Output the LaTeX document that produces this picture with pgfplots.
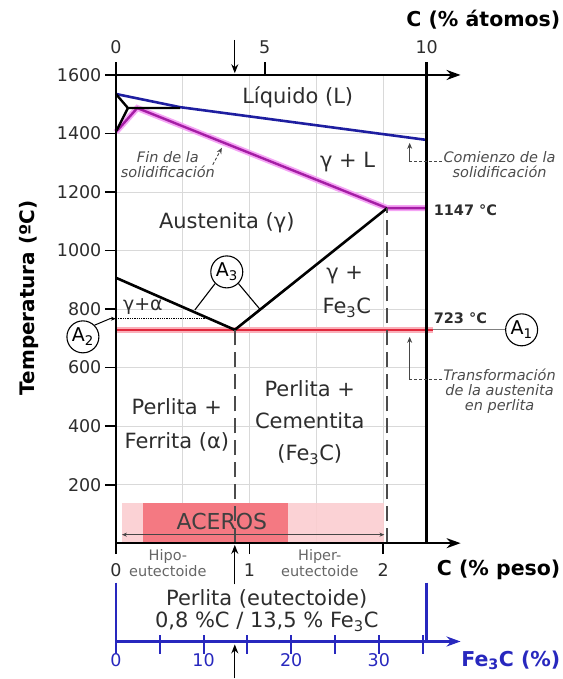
\documentclass[border=0pt]{standalone}
\usepackage{fontspec}
\setmainfont{DejaVu Sans}
\usepackage{pgfplots}
\pgfplotsset{compat=1.18}
\usetikzlibrary{arrows.meta}
\definecolor{liq}{RGB}{30,30,160}
\definecolor{sol}{RGB}{165,30,165}
\definecolor{solhalo}{RGB}{245,165,245}
\definecolor{eut}{RGB}{225,40,60}
\definecolor{euthalo}{RGB}{250,175,185}
\definecolor{acl}{RGB}{251,205,208}
\definecolor{acd}{RGB}{244,112,122}
\definecolor{fe3c}{RGB}{40,40,190}
\definecolor{txt}{RGB}{45,45,45}
\definecolor{lead}{RGB}{70,70,70}
\begin{document}
\begin{tikzpicture}
\begin{axis}[
 scale only axis, width=311pt, height=468.6pt,
 xmin=0, xmax=2.326, ymin=0, ymax=1600,
 clip=false,
 axis lines=left, axis line style={draw=none},
 tick align=outside, major tick length=11pt, minor tick length=0pt,
 xtick={0,1,2}, minor xtick={0.5,1.5}, ytick={200,400,...,1600},
 grid=both,
 major grid style={gray!30, line width=0.9pt},
 minor grid style={gray!30, line width=0.9pt},
 tick style={black, line width=1.8pt},
 ticklabel style={font=\fontsize{17.5}{17.5}\selectfont, text=txt},
 xticklabel style={yshift=-6pt},
 /pgf/number format/assume math mode=true,
 /pgf/number format/set thousands separator={},
]
% ACEROS
\addplot[draw=none, fill=acl, fill opacity=0.9] coordinates {(0.045,0) (2.01,0) (2.01,137) (0.045,137)} -- cycle;
\addplot[draw=none, fill=acd, fill opacity=0.9] coordinates {(0.2,0) (1.29,0) (1.29,137) (0.2,137)} -- cycle;
% eutectoid (A1)
\addplot[euthalo, line width=6pt] coordinates {(0,729) (2.37,729)};
\addplot[eut, line width=2.4pt] coordinates {(0,729) (2.37,729)};
% solidus
\addplot[solhalo, line width=6pt] coordinates {(0,1405) (0.16,1487) (2.03,1145) (2.326,1145)};
\addplot[sol, line width=2.4pt] coordinates {(0,1405) (0.16,1487) (2.03,1145) (2.326,1145)};
% liquidus
\addplot[liq, line width=2.6pt] coordinates {(0,1535) (0.48,1490) (2.326,1378)};
% delta / peritectic
\addplot[black, line width=2.4pt] coordinates {(0,1535) (0.09,1487) (0.48,1487)};
\addplot[black, line width=2.4pt] coordinates {(0.09,1487) (0.005,1410)};
% A3 and Acm
\addplot[black, line width=2.6pt] coordinates {(0,907) (0.89,729) (2.03,1145)};
% A2 dotted
\addplot[black, line width=1.3pt, densely dotted] coordinates {(0,767) (0.68,767)};
% dashed verticals
\addplot[black!70, line width=2.6pt, dash pattern=on 15pt off 7pt] coordinates {(0.89,0) (0.89,729)};
\addplot[black!70, line width=2.6pt, dash pattern=on 15pt off 7pt] coordinates {(2.03,0) (2.03,1145)};

% frame
\draw[line width=2.4pt] (axis cs:0,0) -- (axis cs:0,1600);
\draw[line width=2.4pt] (axis cs:2.326,0) -- (axis cs:2.326,1644);
\draw[line width=2.4pt, -{Stealth[length=14pt,width=10pt]}] (axis cs:0,1600) -- (axis cs:2.58,1600);
\draw[line width=2.4pt, -{Stealth[length=14pt,width=10pt]}] (axis cs:0,0) -- (axis cs:2.58,0);
\draw[line width=1.8pt] (axis cs:0,1600) -- (axis cs:0,1644);
\draw[line width=1.8pt] (axis cs:1.114,1600) -- (axis cs:1.114,1644);
\draw[line width=1.3pt, -{Stealth[length=9pt,width=7pt]}] (axis cs:0.89,1720) -- (axis cs:0.89,1606);

% top axis labels
\node[font=\fontsize{17.5}{17.5}\selectfont, text=txt] at (axis cs:0,1695) {0};
\node[font=\fontsize{17.5}{17.5}\selectfont, text=txt] at (axis cs:1.114,1695) {5};
\node[font=\fontsize{17.5}{17.5}\selectfont, text=txt] at (axis cs:2.326,1695) {10};
\node[anchor=east, font=\bfseries\fontsize{20.5}{20.5}\selectfont, inner sep=0pt] at (axis cs:3.328,1788) {C (\% átomos)};

% y label
\node[rotate=90, font=\bfseries\fontsize{20}{20}\selectfont, inner sep=0pt] at (axis cs:-0.650,838) {Temperatura (ºC)};

% bottom axis label
\node[anchor=east, font=\bfseries\fontsize{20.5}{20.5}\selectfont, inner sep=0pt] at (axis cs:3.328,-90) {C (\% peso)};
\node[align=center, font=\fontsize{14.5}{16}\selectfont, text=black!60] at (axis cs:0.389,-68) {Hipo-\\eutectoide};
\node[align=center, font=\fontsize{14.5}{16}\selectfont, text=black!60] at (axis cs:1.526,-68) {Hiper-\\eutectoide};
\draw[line width=1.3pt, -{Stealth[length=9pt,width=7pt]}] (axis cs:0.89,-141) -- (axis cs:0.89,-6);

% region labels
\node[font=\fontsize{21}{21}\selectfont, text=txt] at (axis cs:1.361,1525) {Líquido (L)};
\node[font=\fontsize{21}{21}\selectfont, text=txt] at (axis cs:1.735,1303) {γ + L};
\node[font=\fontsize{21}{21}\selectfont, text=txt] at (axis cs:0.830,1094) {Austenita (γ)};
\node[font=\fontsize{21}{21}\selectfont, text=txt] at (axis cs:1.713,917) {γ +};
\node[font=\fontsize{21}{21}\selectfont, text=txt] at (axis cs:1.728,805) {Fe\textsubscript{3}C};
\node[font=\fontsize{19}{19}\selectfont, text=txt] at (axis cs:0.202,808) {γ+α};
\node[align=center, font=\fontsize{21}{34}\selectfont, text=txt] at (axis cs:0.456,405) {Perlita +\\Ferrita (α)};
\node[align=center, font=\fontsize{21}{32}\selectfont, text=txt] at (axis cs:1.451,413) {Perlita +\\Cementita\\(Fe\textsubscript{3}C)};
\node[font=\fontsize{22}{22}\selectfont, text=black!75] at (axis cs:0.793,74) {ACEROS};
\draw[lead, line width=0.8pt, {Stealth[length=5pt,width=4pt]}-{Stealth[length=5pt,width=4pt]}] (axis cs:0.045,29) -- (axis cs:2.01,29);

% temperatures
\node[anchor=west, font=\bfseries\fontsize{14.5}{14.5}\selectfont, text=txt, inner sep=0pt] at (axis cs:2.378,1138) {1147 °C};
\node[anchor=west, font=\bfseries\fontsize{14.5}{14.5}\selectfont, text=txt, inner sep=0pt] at (axis cs:2.378,770) {723 °C};

% circles
\node[circle, draw, line width=1.1pt, minimum size=32pt, inner sep=0pt, font=\fontsize{19}{19}\selectfont] (a3) at (axis cs:0.830,927) {A\textsubscript{3}};
\draw[line width=1.1pt] (a3.south west) -- (axis cs:0.591,797);
\draw[line width=1.1pt] (a3.south east) -- (axis cs:1.077,800);
\node[circle, draw, line width=1.1pt, minimum size=32pt, inner sep=0pt, font=\fontsize{19}{19}\selectfont] (a2) at (axis cs:-0.247,705) {A\textsubscript{2}};
\draw[line width=1pt, -{Stealth[length=5pt,width=4pt]}] (a2.north east) -- (axis cs:-0.045,767) -- (axis cs:0,767);
\node[circle, draw, line width=1.1pt, minimum size=32pt, inner sep=0pt, font=\fontsize{19}{19}\selectfont] (a1) at (axis cs:3.037,729) {A\textsubscript{1}};
\draw[gray, line width=1.1pt] (axis cs:2.371,729) -- (a1.west);

% annotations
\node[align=center, font=\itshape\fontsize{14.5}{15}\selectfont, text=black!70] at (axis cs:2.872,1293) {Comienzo de la\\solidificación};
\draw[lead, line width=0.9pt, densely dashed] (axis cs:2.440,1303) -- (axis cs:2.199,1303);
\draw[lead, line width=0.9pt, -{Stealth[length=6pt,width=5pt]}] (axis cs:2.199,1303) -- (axis cs:2.199,1368);
\node[align=center, font=\itshape\fontsize{14.5}{15}\selectfont, text=black!70] at (axis cs:0.389,1293) {Fin de la\\solidificación};
\draw[lead, line width=0.9pt, densely dashed, -{Stealth[length=6pt,width=5pt]}] (axis cs:0.725,1293) -- (axis cs:0.793,1351);
\node[align=center, font=\itshape\fontsize{14.5}{15}\selectfont, text=black!70] at (axis cs:2.872,518) {Transformación\\de la austenita\\en perlita};
\draw[lead, line width=0.9pt, densely dashed] (axis cs:2.440,558) -- (axis cs:2.199,558);
\draw[lead, line width=0.9pt, -{Stealth[length=6pt,width=5pt]}] (axis cs:2.199,558) -- (axis cs:2.199,705);

% Fe3C scale
\draw[fe3c, line width=2.4pt] (axis cs:0,-134.5) -- (axis cs:0,-336);
\draw[fe3c, line width=2.4pt] (axis cs:2.326,-134.5) -- (axis cs:2.326,-336);
\draw[fe3c, line width=2.4pt, -{Stealth[length=14pt,width=10pt]}] (axis cs:0,-336) -- (axis cs:2.58,-336);
\draw[fe3c, line width=2pt] (axis cs:0,-315) -- (axis cs:0,-380);
\draw[fe3c, line width=2pt] (axis cs:0.328,-315) -- (axis cs:0.328,-380);
\draw[fe3c, line width=2pt] (axis cs:0.656,-315) -- (axis cs:0.656,-380);
\draw[fe3c, line width=2pt] (axis cs:0.984,-315) -- (axis cs:0.984,-380);
\draw[fe3c, line width=2pt] (axis cs:1.312,-315) -- (axis cs:1.312,-380);
\draw[fe3c, line width=2pt] (axis cs:1.640,-315) -- (axis cs:1.640,-380);
\draw[fe3c, line width=2pt] (axis cs:1.968,-315) -- (axis cs:1.968,-380);
\draw[fe3c, line width=2pt] (axis cs:2.296,-315) -- (axis cs:2.296,-380);
\node[font=\fontsize{17.5}{17.5}\selectfont, text=fe3c] at (axis cs:0,-400) {0};
\node[font=\fontsize{17.5}{17.5}\selectfont, text=fe3c] at (axis cs:0.656,-400) {10};
\node[font=\fontsize{17.5}{17.5}\selectfont, text=fe3c] at (axis cs:1.312,-400) {20};
\node[font=\fontsize{17.5}{17.5}\selectfont, text=fe3c] at (axis cs:1.968,-400) {30};
\node[anchor=east, font=\bfseries\fontsize{20.5}{20.5}\selectfont, text=fe3c, inner sep=0pt] at (axis cs:3.328,-400) {Fe\textsubscript{3}C (\%)};
\node[align=center, font=\fontsize{21}{22}\selectfont, text=txt] at (axis cs:1.129,-230) {Perlita (eutectoide)\\0,8 \%C / 13,5 \% Fe\textsubscript{3}C};
\draw[line width=1.3pt, -{Stealth[length=9pt,width=7pt]}] (axis cs:0.89,-462) -- (axis cs:0.89,-346);

% bounding box
\path (axis cs:-0.8676,-462.3) rectangle (axis cs:3.3433,1856.2);
\end{axis}
\end{tikzpicture}
\end{document}
